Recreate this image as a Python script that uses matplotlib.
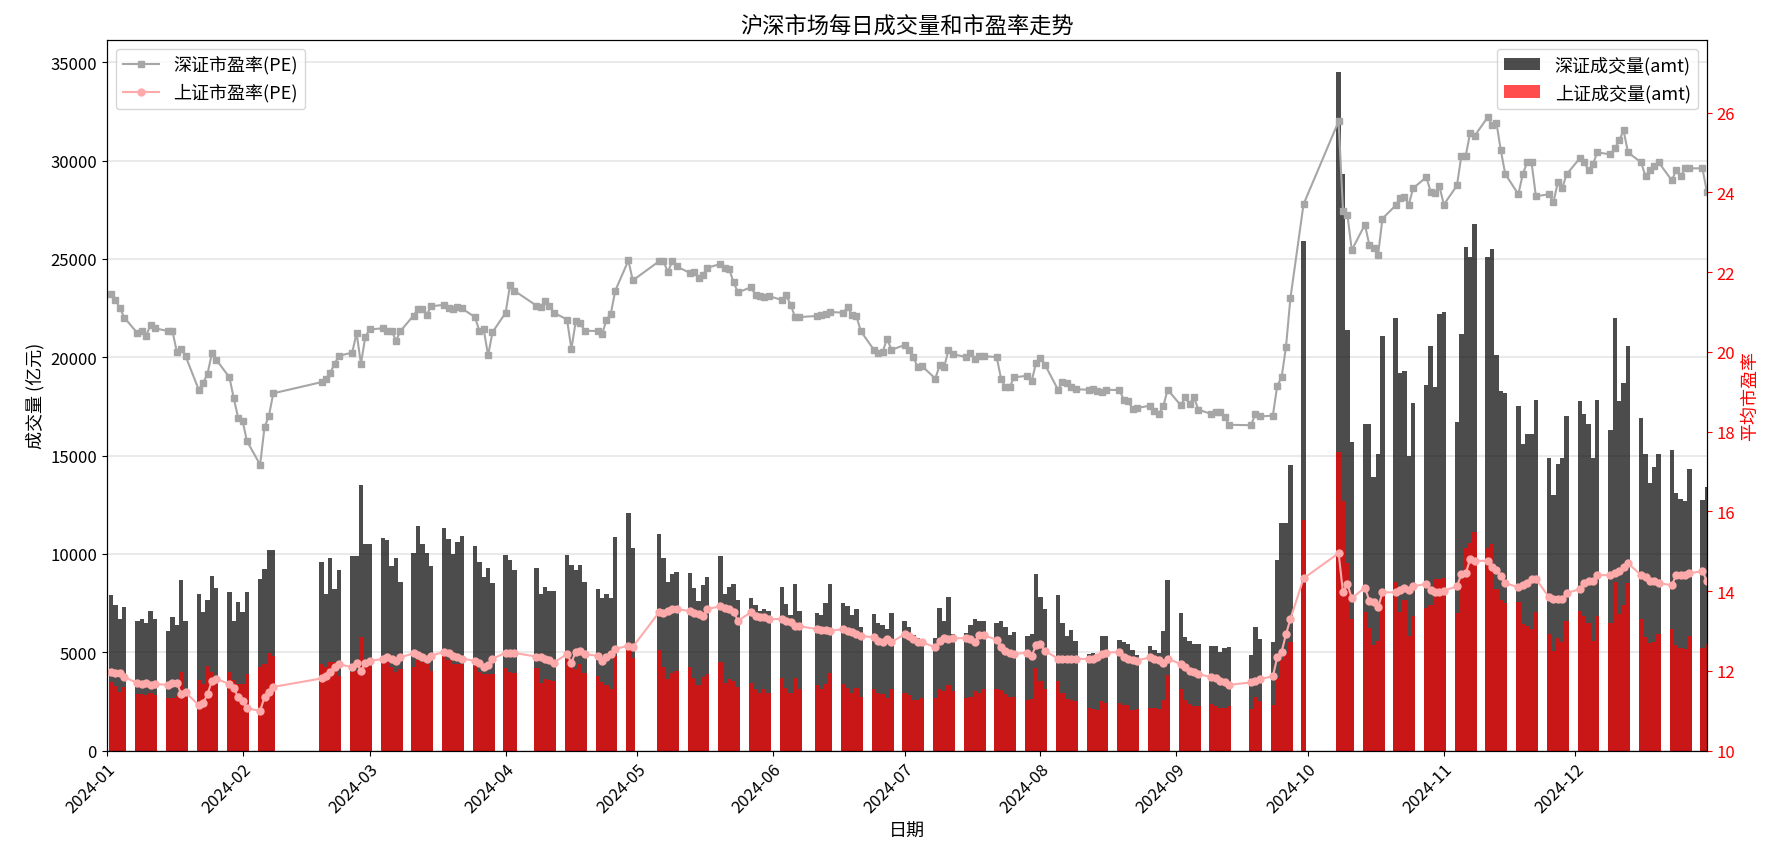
import numpy as np
import pandas as pd
import matplotlib
matplotlib.use("Agg")
import matplotlib.pyplot as plt
import matplotlib.dates as mdates

plt.rcParams['font.family'] = ['Noto Sans CJK SC', 'DejaVu Sans']
plt.rcParams['axes.unicode_minus'] = False

# trading days of 2024 (weekdays minus exchange holidays)
holidays = pd.to_datetime(['2024-01-01', '2024-02-09', '2024-02-12', '2024-02-13', '2024-02-14',
                           '2024-02-15', '2024-02-16', '2024-04-04', '2024-04-05', '2024-05-01',
                           '2024-05-02', '2024-05-03', '2024-06-10', '2024-09-16', '2024-09-17',
                           '2024-10-01', '2024-10-02', '2024-10-03', '2024-10-04', '2024-10-07'])
days = pd.bdate_range('2024-01-01', '2024-12-31')
days = days[~days.isin(holidays)]

# 深证成交量, 千亿元 per month
sz_amt_k = [
    7.9, 7.4, 6.7, 7.3, 6.6, 6.7, 6.5, 7.1, 6.7, 6.1, 6.8, 6.4, 8.7, 6.6, 7.95, 7.05, 7.65, 8.9, 8.25, 8.05, 6.6, 7.55,
    7.05, 8.05, 8.75, 9.25, 10.2, 10.2, 9.6, 7.95, 9.8, 8.2, 9.2, 9.9, 9.9, 13.5, 10.5,
    10.5, 10.8, 10.7, 9.4, 9.8, 8.6, 10.05, 11.4, 10.5, 10.05, 9.4, 11.3, 10.75, 10.0, 10.6, 10.9, 10.4, 9.6, 8.85, 9.3, 8.55,
    9.95, 9.7, 9.2, 9.3, 7.95, 8.3, 8.1, 8.1, 9.95, 9.45, 9.2, 9.45, 8.6, 8.2, 7.75, 7.95, 7.75, 10.85, 12.1, 10.3,
    11.0, 9.8, 8.6, 9.0, 9.1, 9.05, 8.25, 7.6, 8.4, 8.85, 9.9, 7.95, 8.3, 8.45, 7.65, 7.75, 7.4, 7.1, 7.2, 7.1,
    8.3, 7.45, 6.9, 8.45, 7.1, 7.0, 6.9, 7.5, 8.45, 7.5, 7.35, 6.9, 7.2, 6.3, 6.95, 6.5, 6.4, 6.2, 7.0,
    6.6, 6.3, 5.9, 5.75, 5.6, 5.75, 7.25, 6.6, 7.8, 5.95, 6.0, 6.4, 6.7, 6.6, 6.6, 6.5, 6.6, 6.3, 5.9, 6.05, 5.85, 5.95, 9.0,
    7.8, 7.2, 7.9, 6.5, 5.85, 6.15, 5.6, 4.9, 4.95, 4.85, 5.85, 5.85, 5.65, 5.55, 5.4, 5.1, 4.85, 5.3, 5.1, 4.95, 6.1, 8.7,
    7.0, 5.8, 5.6, 5.4, 5.4, 5.3, 5.3, 5.0, 5.2, 5.25, 4.85, 6.3, 5.7, 5.5, 9.7, 11.6, 11.6, 14.5, 25.9,
    34.5, 29.3, 21.4, 15.7, 16.6, 16.6, 13.9, 15.1, 21.1, 22.0, 19.2, 19.3, 15.0, 17.7, 18.6, 20.6, 18.5, 22.2,
    22.3, 16.7, 21.2, 25.6, 25.1, 26.8, 25.1, 25.5, 20.1, 18.3, 18.2, 17.5, 15.6, 16.1, 16.1, 17.85, 14.9, 13.0, 14.6, 14.9, 17.0,
    17.8, 17.1, 16.6, 14.9, 17.85, 16.3, 22.0, 17.8, 18.7, 20.6, 16.9, 15.1, 13.6, 14.4, 15.1, 15.3, 13.1, 12.8, 12.7, 14.3, 12.75, 13.4,
]

# 上证成交量, 千亿元
sh_amt_k = [
    3.47, 3.27, 3.0, 3.22, 2.9, 2.88, 2.83, 2.95, 2.85, 2.7, 2.7, 2.8, 4.0, 2.9, 3.6, 3.4, 4.3, 4.0, 3.65, 4.0, 3.6, 3.4,
    3.4, 3.9, 4.25, 4.4, 4.95, 4.8, 4.4, 4.25, 4.5, 4.5, 3.8, 4.0, 4.05, 5.8, 4.25,
    4.3, 4.6, 4.5, 4.25, 4.0, 4.15, 4.25, 4.6, 4.5, 4.4, 4.05, 4.8, 4.6, 4.4, 4.4, 4.4, 4.4, 4.0, 3.9, 3.9, 3.9,
    4.2, 4.0, 3.95, 4.2, 3.45, 3.65, 3.6, 3.55, 4.65, 4.5, 4.15, 4.4, 3.95, 3.8, 3.5, 3.35, 3.15, 4.8, 5.1, 4.7,
    5.1, 4.25, 3.65, 3.95, 4.05, 4.25, 3.7, 3.35, 3.75, 3.9, 4.5, 3.45, 3.65, 3.55, 3.25, 3.45, 3.15, 2.95, 3.15, 2.95,
    3.7, 3.2, 2.95, 3.7, 3.15, 3.35, 3.15, 3.4, 3.95, 3.4, 3.2, 2.95, 3.2, 2.75, 3.15, 2.95, 2.9, 2.7, 3.15,
    2.95, 2.85, 2.6, 2.6, 2.7, 2.7, 3.15, 3.05, 3.35, 3.05, 2.7, 2.75, 3.05, 2.95, 3.15, 3.15, 3.1, 2.9, 2.75, 2.75, 2.6, 2.65, 4.2,
    3.55, 3.15, 3.55, 2.95, 2.65, 2.6, 2.55, 2.15, 2.1, 2.05, 2.55, 2.4, 2.4, 2.3, 2.3, 2.05, 2.1, 2.15, 2.15, 2.1, 2.6, 3.85,
    3.15, 2.6, 2.35, 2.25, 2.25, 2.35, 2.25, 2.15, 2.15, 2.25, 2.1, 2.75, 2.55, 2.3, 3.7, 4.6, 4.9, 5.5, 11.75,
    15.2, 12.7, 9.55, 6.7, 7.05, 6.25, 5.35, 5.6, 7.85, 8.6, 7.05, 7.65, 5.85, 6.85, 7.25, 7.4, 8.75, 8.75,
    8.8, 7.0, 8.75, 10.3, 10.55, 11.1, 10.3, 10.5, 8.2, 7.65, 7.5, 7.55, 6.45, 6.35, 6.2, 7.05, 5.95, 5.05, 5.75, 5.55, 6.6,
    7.1, 6.85, 6.5, 5.6, 6.85, 6.5, 8.6, 6.95, 7.4, 8.5, 6.7, 5.8, 5.45, 5.55, 5.95, 6.2, 5.35, 5.2, 5.15, 5.85, 5.2, 5.4,
]

# 深证市盈率
sz_pe = [
    21.44, 21.3, 21.1, 20.86, 20.47, 20.52, 20.4, 20.68, 20.59, 20.52, 20.52, 20.0, 20.07, 19.89, 19.05, 19.22, 19.45, 19.96, 19.8, 19.36, 18.83, 18.34,
    18.27, 17.76, 17.17, 18.11, 18.39, 18.96, 19.24, 19.31, 19.48, 19.7, 19.9, 19.98, 20.47, 19.7, 20.38,
    20.56, 20.59, 20.52, 20.52, 20.28, 20.52, 20.91, 21.07, 21.07, 20.93, 21.14, 21.18, 21.09, 21.07, 21.12, 21.09, 20.87, 20.53, 20.56, 19.91, 20.49,
    20.98, 21.67, 21.53, 21.16, 21.12, 21.27, 21.14, 20.98, 20.81, 20.07, 20.77, 20.72, 20.53, 20.52, 20.44, 20.8, 20.96, 21.53, 22.29, 21.79,
    22.27, 22.27, 22.0, 22.27, 22.14, 21.98, 22.0, 21.86, 21.92, 22.11, 22.2, 22.09, 22.07, 21.74, 21.49, 21.62, 21.42, 21.4, 21.37, 21.4,
    21.3, 21.42, 21.18, 20.88, 20.87, 20.9, 20.93, 20.95, 21.0, 20.98, 21.12, 20.93, 20.9, 20.52, 20.05, 19.98, 20.0, 20.33, 20.05,
    20.17, 20.05, 19.87, 19.61, 19.64, 19.33, 19.66, 19.61, 20.04, 19.94, 19.87, 19.96, 19.82, 19.89, 19.89, 19.87, 19.33, 19.11, 19.13, 19.36, 19.4, 19.27, 19.73,
    19.85, 19.68, 19.05, 19.25, 19.22, 19.11, 19.06, 19.05, 19.07, 19.03, 19.0, 19.05, 19.04, 18.8, 18.76, 18.57, 18.59, 18.65, 18.52, 18.45, 18.63, 19.05,
    18.66, 18.86, 18.69, 18.86, 18.55, 18.44, 18.48, 18.48, 18.37, 18.17, 18.16, 18.43, 18.38, 18.4, 19.15, 19.36, 20.13, 21.34, 23.7,
    25.78, 23.54, 23.44, 22.55, 23.19, 22.68, 22.6, 22.43, 23.34, 23.67, 23.86, 23.88, 23.69, 24.1, 24.38, 24.01, 23.98, 24.15,
    23.69, 24.17, 24.92, 24.92, 25.49, 25.41, 25.88, 25.69, 25.74, 25.05, 24.46, 23.95, 24.45, 24.75, 24.75, 23.9, 23.95, 23.75, 24.25, 24.1, 24.45,
    24.85, 24.75, 24.55, 24.7, 25.0, 24.95, 25.1, 25.3, 25.55, 25.0, 24.75, 24.4, 24.55, 24.65, 24.75, 24.3, 24.55, 24.4, 24.6, 24.6, 24.6, 24.0,
]

# 上证市盈率
sh_pe = [
    11.98, 11.95, 11.95, 11.84, 11.7, 11.67, 11.7, 11.65, 11.67, 11.65, 11.7, 11.7, 11.42, 11.46, 11.14, 11.19, 11.42, 11.75, 11.8, 11.67, 11.56, 11.34,
    11.25, 11.06, 11.0, 11.34, 11.46, 11.6, 11.81, 11.88, 11.98, 12.09, 12.17, 12.09, 12.2, 12.0, 12.2,
    12.25, 12.3, 12.34, 12.3, 12.25, 12.34, 12.44, 12.4, 12.36, 12.31, 12.38, 12.48, 12.45, 12.38, 12.36, 12.31, 12.25, 12.2, 12.1, 12.15, 12.3,
    12.46, 12.46, 12.45, 12.36, 12.34, 12.3, 12.27, 12.21, 12.42, 12.21, 12.48, 12.5, 12.42, 12.38, 12.26, 12.34, 12.42, 12.55, 12.63, 12.6,
    13.47, 13.45, 13.5, 13.55, 13.55, 13.5, 13.45, 13.42, 13.38, 13.55, 13.62, 13.57, 13.55, 13.47, 13.26, 13.47, 13.38, 13.34, 13.34, 13.3,
    13.3, 13.26, 13.22, 13.13, 13.12, 13.05, 13.03, 13.03, 13.0, 13.05, 13.0, 12.97, 12.92, 12.88, 12.84, 12.76, 12.72, 12.8, 12.72,
    12.92, 12.88, 12.8, 12.73, 12.72, 12.59, 12.76, 12.82, 12.8, 12.82, 12.82, 12.8, 12.73, 12.9, 12.9, 12.78, 12.59, 12.5, 12.45, 12.42, 12.46, 12.38, 12.65,
    12.67, 12.5, 12.31, 12.3, 12.3, 12.31, 12.3, 12.3, 12.31, 12.36, 12.42, 12.45, 12.48, 12.34, 12.3, 12.28, 12.26, 12.34, 12.3, 12.28, 12.2, 12.31,
    12.17, 12.09, 12.0, 11.96, 11.92, 11.84, 11.81, 11.75, 11.71, 11.65, 11.71, 11.75, 11.8, 11.86, 12.34, 12.48, 12.92, 13.3, 14.32,
    14.95, 13.97, 14.18, 13.82, 14.09, 13.76, 13.73, 13.59, 13.97, 13.97, 14.03, 14.09, 14.03, 14.12, 14.18, 14.03, 13.97, 13.97,
    14.01, 14.12, 14.43, 14.45, 14.8, 14.76, 14.76, 14.6, 14.54, 14.38, 14.2, 14.1, 14.15, 14.2, 14.3, 14.3, 13.85, 13.8, 13.8, 13.8, 13.95,
    14.05, 14.2, 14.25, 14.25, 14.4, 14.4, 14.45, 14.5, 14.6, 14.7, 14.4, 14.35, 14.25, 14.25, 14.2, 14.15, 14.4, 14.4, 14.4, 14.45, 14.5, 14.25,
]

sz_amt = np.array(sz_amt_k) * 1000
sh_amt = np.array(sh_amt_k) * 1000

fig, ax1 = plt.subplots(figsize=(17.78, 8.62), dpi=100)
fig.subplots_adjust(left=0.06, right=0.96, bottom=0.128, top=0.953)

ax1.bar(days, sz_amt, width=1.0, color='black', alpha=0.7, label='深证成交量(amt)')
ax1.bar(days, sh_amt, width=1.0, color='red', alpha=0.7, label='上证成交量(amt)')
ax1.set_ylim(0, 36160)
ax1.set_ylabel('成交量 (亿元)', fontsize=13)
ax1.set_xlabel('日期', fontsize=13)
ax1.grid(axis='y', color='#e6e6e6', linewidth=1.2)
ax1.set_axisbelow(True)
ax1.tick_params(labelsize=12)

ax2 = ax1.twinx()
l1, = ax2.plot(days, sz_pe, color='#a6a6a6', marker='s', markersize=5, linewidth=1.5, label='深证市盈率(PE)')
l2, = ax2.plot(days, sh_pe, color='#ffaaaa', marker='o', markersize=5, linewidth=1.5, label='上证市盈率(PE)')
ax2.set_ylim(10, 27.83)
ax2.set_ylabel('平均市盈率', color='red', fontsize=13)
ax2.tick_params(axis='y', colors='red', labelsize=12)

ax1.set_xlim(pd.Timestamp('2024-01-01'), pd.Timestamp('2024-12-31'))
ax1.xaxis.set_major_locator(mdates.MonthLocator())
ax1.xaxis.set_major_formatter(mdates.DateFormatter('%Y-%m'))
plt.setp(ax1.get_xticklabels(), rotation=45, ha='right', rotation_mode='anchor')

h1, lab1 = ax1.get_legend_handles_labels()
leg_l = ax2.legend([l1, l2], [l1.get_label(), l2.get_label()], loc='upper left', fontsize=13)
ax2.add_artist(leg_l)
ax2.legend(h1, lab1, loc='upper right', fontsize=13)

ax1.set_title('沪深市场每日成交量和市盈率走势', fontsize=16)

fig.savefig('out.png', dpi=100)
